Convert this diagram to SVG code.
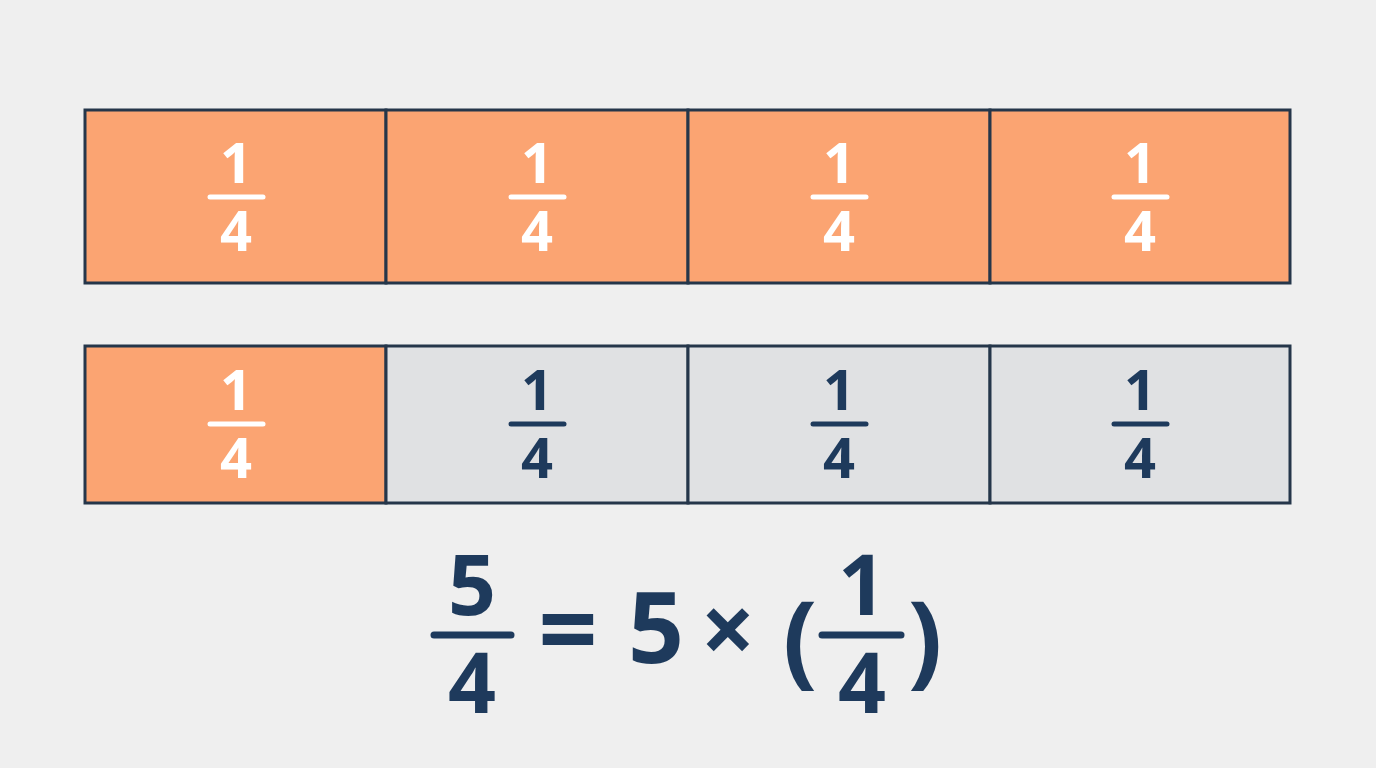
<svg xmlns="http://www.w3.org/2000/svg" width="1376" height="768" viewBox="0 0 1376 768">
<style>
.o{fill:#fba472;stroke:#25364a;stroke-width:3}
.g{fill:#e0e1e3;stroke:#25364a;stroke-width:3}
.tw{font-family:"Open Sans","DejaVu Sans",sans-serif;font-weight:700;font-size:56px;fill:#ffffff;text-anchor:middle}
.td{font-family:"Open Sans","DejaVu Sans",sans-serif;font-weight:700;font-size:56px;fill:#1e3a5c;text-anchor:middle}
.bw{stroke:#ffffff;stroke-width:5;stroke-linecap:round}
.bd{stroke:#1e3a5c;stroke-width:5;stroke-linecap:round}
.eq{font-family:"Open Sans","DejaVu Sans",sans-serif;font-weight:700;fill:#1e3a5c;text-anchor:middle}
.be{stroke:#1e3a5c;stroke-width:7;stroke-linecap:round}
</style>
<rect width="1376" height="768" fill="#efefef"/>
<g id="row1">
<g id="r1c1"><rect class="o" x="85" y="110" width="301" height="173"/><text class="tw" x="236" y="183">1</text><line class="bw" x1="210" y1="197" x2="263" y2="197"/><text class="tw" x="236" y="251">4</text></g>
<g id="r1c2"><rect class="o" x="386" y="110" width="302" height="173"/><text class="tw" x="537" y="183">1</text><line class="bw" x1="511" y1="197" x2="564" y2="197"/><text class="tw" x="537" y="251">4</text></g>
<g id="r1c3"><rect class="o" x="688" y="110" width="302" height="173"/><text class="tw" x="839" y="183">1</text><line class="bw" x1="813" y1="197" x2="866" y2="197"/><text class="tw" x="839" y="251">4</text></g>
<g id="r1c4"><rect class="o" x="990" y="110" width="300" height="173"/><text class="tw" x="1140" y="183">1</text><line class="bw" x1="1114" y1="197" x2="1167" y2="197"/><text class="tw" x="1140" y="251">4</text></g>
</g>
<g id="row2">
<g id="r2c1"><rect class="o" x="85" y="346" width="301" height="157"/><text class="tw" x="236" y="410">1</text><line class="bw" x1="210" y1="424" x2="263" y2="424"/><text class="tw" x="236" y="478">4</text></g>
<g id="r2c2"><rect class="g" x="386" y="346" width="302" height="157"/><text class="td" x="537" y="410">1</text><line class="bd" x1="511" y1="424" x2="564" y2="424"/><text class="td" x="537" y="478">4</text></g>
<g id="r2c3"><rect class="g" x="688" y="346" width="302" height="157"/><text class="td" x="839" y="410">1</text><line class="bd" x1="813" y1="424" x2="866" y2="424"/><text class="td" x="839" y="478">4</text></g>
<g id="r2c4"><rect class="g" x="990" y="346" width="300" height="157"/><text class="td" x="1140" y="410">1</text><line class="bd" x1="1114" y1="424" x2="1167" y2="424"/><text class="td" x="1140" y="478">4</text></g>
</g>
<g id="equation">
<text class="eq" x="472" y="615" font-size="84">5</text>
<line class="be" x1="434" y1="635" x2="511" y2="635"/>
<text class="eq" x="472" y="713" font-size="84">4</text>
<text class="eq" x="568" y="666" font-size="104">=</text>
<text class="eq" x="656" y="663" font-size="98">5</text>
<text class="eq" x="728" y="664" font-size="96">×</text>
<text class="eq" x="800" y="675" font-size="102" font-weight="600">(</text>
<text class="eq" x="862" y="615" font-size="84">1</text>
<line class="be" x1="822" y1="635" x2="901" y2="635"/>
<text class="eq" x="862" y="713" font-size="84">4</text>
<text class="eq" x="925" y="675" font-size="102" font-weight="600">)</text>
</g>
</svg>
